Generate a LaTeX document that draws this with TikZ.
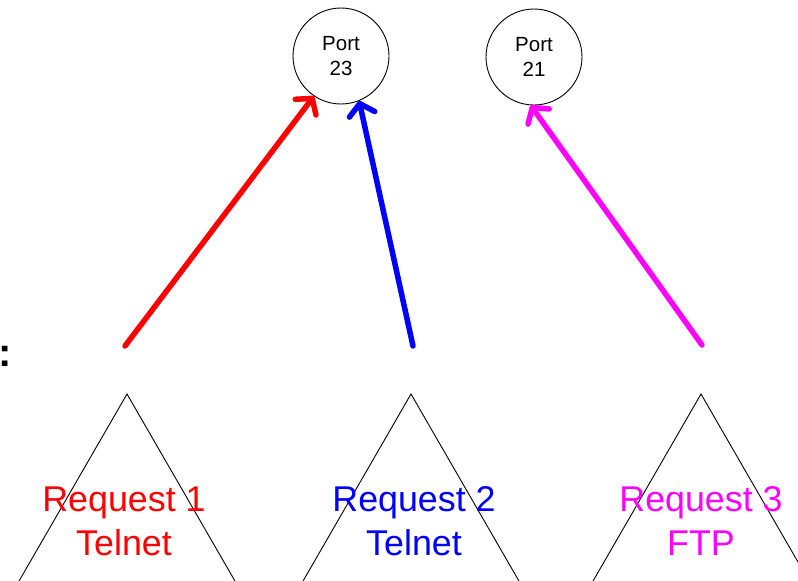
\documentclass[tikz,border=0pt]{standalone}
\usepackage{fontspec}
\setmainfont{Liberation Sans}
\usetikzlibrary{arrows.meta}
\begin{document}
\begin{tikzpicture}[x=1pt,y=-1pt,
  port/.style={draw=black,line width=0.9pt,circle,minimum size=96pt,inner sep=0pt,
    align=center,font=\fontsize{20.5}{25}\selectfont},
  peak/.style={draw=black,line width=0.9pt},
  reqlabel/.style={align=center,inner sep=0pt,font=\fontsize{35.8}{44}\selectfont},
  flow/.style={line width=5.5pt,line cap=round,
    -{Straight Barb[length=11pt,width=26pt,round]}}]
  \useasboundingbox (0,0) rectangle (798,581);
  \clip (0,0) rectangle (798,581);

  % destination ports
  \node[port] (p23) at (341,56) {Port\\23};
  \node[port] (p21) at (534,57) {Port\\21};

  % request triangles (equilateral, base below the frame)
  \foreach \x in {127,411,701}
    \draw[peak] (\x-127,614) -- (\x,394) -- (\x+127,614);

  % request labels
  \node[reqlabel,text={rgb,255:red,255;green,0;blue,0}] (r1) at (124,521) {Request 1\\Telnet};
  \node[reqlabel,text={rgb,255:red,0;green,0;blue,255}] (r2) at (414,521) {Request 2\\Telnet};
  \node[reqlabel,text={rgb,255:red,255;green,0;blue,255}] (r3) at (701,521) {Request 3\\FTP};

  % colon at the left edge
  \node[font=\fontsize{40}{44}\bfseries\selectfont,inner sep=0pt] (colon) at (5,356) {:};

  % arrow start points
  \coordinate (s1) at (125,346);
  \coordinate (s2) at (413,346);
  \coordinate (s3) at (702,345);

  \draw[flow,draw={rgb,255:red,255;green,0;blue,0}] (s1) -- (p23.-124);
  \draw[flow,draw={rgb,255:red,0;green,0;blue,255}] (s2) -- (p23.-68);
  \draw[flow,draw={rgb,255:red,255;green,0;blue,255}] (s3) -- (p21.-94);
\end{tikzpicture}
\end{document}
